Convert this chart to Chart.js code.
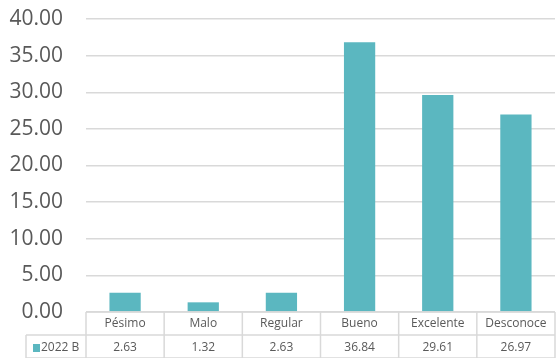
<!DOCTYPE html>
<html>
<head>
<meta charset="utf-8">
<script src="https://cdn.jsdelivr.net/npm/chart.js@4/dist/chart.umd.min.js"></script>
<style>
  html, body { margin: 0; padding: 0; background: #fff; }
  #wrap { width: 556px; height: 358px; }
</style>
</head>
<body>
<div id="wrap"><canvas id="myChart" width="556" height="358"></canvas></div>
<script>
const categories = ["Pésimo", "Malo", "Regular", "Bueno", "Excelente", "Desconoce"];
const values2022B = [2.63, 1.32, 2.63, 36.84, 29.61, 26.97];
const seriesName = "2022 B";
const barColor = "#5bb7c0";
const gridColor = "#d9d9d9";
const textColor = "#595959";

// draws the excel style data table under the plot
const dataTable = {
  id: "dataTable",
  afterDraw(chart) {
    const ctx = chart.ctx;
    const x = chart.scales.x;
    const area = chart.chartArea;
    const top = area.bottom;
    const mid = top + 23;
    const bottom = mid + 23;
    const half = (x.getPixelForValue(1) - x.getPixelForValue(0)) / 2;
    const left = area.left;
    const right = area.right;
    const legendLeft = 26;

    ctx.save();
    ctx.strokeStyle = gridColor;
    ctx.lineWidth = 1.5;
    ctx.beginPath();
    ctx.moveTo(left, top); ctx.lineTo(right, top);
    ctx.moveTo(legendLeft, mid); ctx.lineTo(right, mid);
    ctx.moveTo(legendLeft, mid); ctx.lineTo(legendLeft, bottom);
    ctx.moveTo(legendLeft, bottom); ctx.lineTo(right, bottom);
    categories.forEach((c, i) => {
      const bx = x.getPixelForValue(i) - half;
      ctx.moveTo(bx, top); ctx.lineTo(bx, bottom);
    });
    ctx.moveTo(right, top); ctx.lineTo(right, bottom);
    ctx.stroke();

    ctx.fillStyle = textColor;
    ctx.font = "12px 'Open Sans'";
    ctx.textAlign = "center";
    ctx.textBaseline = "middle";
    categories.forEach((c, i) => {
      const cx = x.getPixelForValue(i);
      ctx.fillText(c, cx, top + 12);
      ctx.fillText(values2022B[i].toFixed(2), cx, mid + 13);
    });

    ctx.fillStyle = barColor;
    ctx.fillRect(33, mid + 9, 7, 8);
    ctx.fillStyle = textColor;
    ctx.textAlign = "left";
    ctx.fillText(seriesName, 41, mid + 13);
    ctx.restore();
  }
};

new Chart("myChart", {
  type: "bar",
  data: {
    labels: categories,
    datasets: [
      {
        label: seriesName,
        backgroundColor: barColor,
        data: values2022B,
        categoryPercentage: 1,
        barPercentage: 0.4,
      },
    ],
  },
  options: {
    responsive: false,
    animation: false,
    layout: { padding: { left: 9, right: 1, top: 8, bottom: 46 } },
    plugins: {
      legend: { display: false },
      tooltip: { enabled: false },
    },
    scales: {
      x: { display: false },
      y: {
        min: 0,
        max: 40,
        border: { display: false },
        grid: { color: gridColor, lineWidth: 1.5, drawTicks: false },
        ticks: {
          stepSize: 5,
          padding: 23,
          color: textColor,
          font: { family: "'Open Sans'", size: 21 },
          callback: (v) => v.toFixed(2),
        },
        afterFit: (scale) => {
          scale.width = 77;
          scale.paddingTop = 19;
        },
      },
    },
  },
  plugins: [dataTable],
});
</script>
</body>
</html>
